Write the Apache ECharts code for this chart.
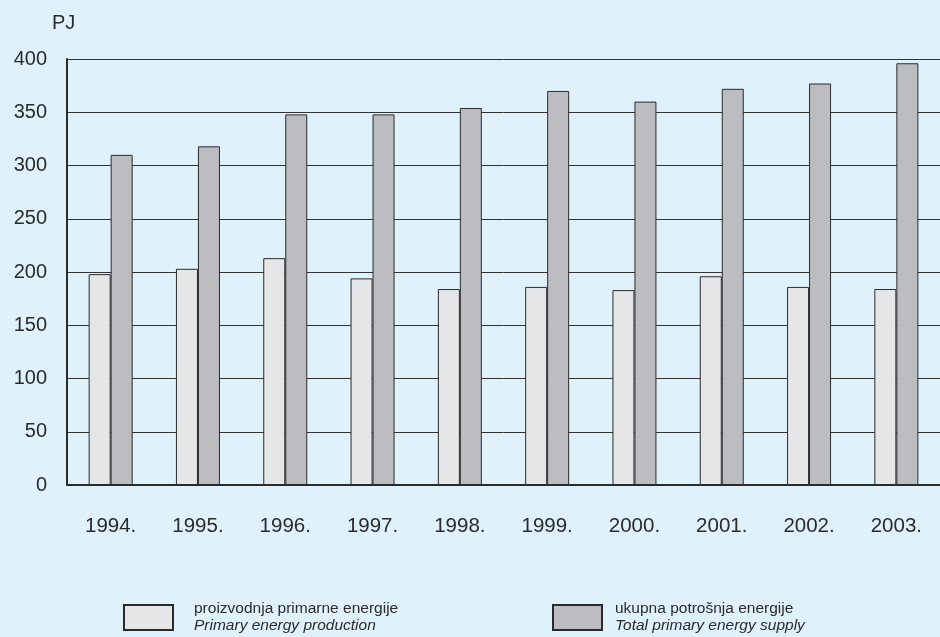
<!DOCTYPE html>
<html>
<head>
<meta charset="utf-8">
<title>Primarna energija 1994.–2003.</title>
<script src="https://cdn.jsdelivr.net/npm/echarts@6/dist/echarts.min.js"></script>
<style>
  html, body { margin: 0; padding: 0; background: #dff2fc; }
  #chart { width: 940px; height: 637px; }
</style>
</head>
<body>
<div id="chart"></div>
<script>
// Years on the category axis
const years = ['1994.', '1995.', '1996.', '1997.', '1998.', '1999.', '2000.', '2001.', '2002.', '2003.'];
// Primary energy production, PJ
const production = [198, 203, 213, 194, 184, 186, 183, 196, 186, 184];
// Total primary energy supply, PJ
const supply = [310, 318, 348, 348, 354, 370, 360, 372, 377, 396];
// Value axis ticks
const yTicks = [0, 50, 100, 150, 200, 250, 300, 350, 400];

const seriesNames = [
  { hr: 'proizvodnja primarne energije', en: 'Primary energy production' },
  { hr: 'ukupna potrošnja energije', en: 'Total primary energy supply' }
];

const font = '"Liberation Sans", Arial, sans-serif';
const ink = '#2b2b2b';

function legendText(gap) {
  return {
    fontFamily: font,
    rich: {
      a: { fontFamily: font, fontSize: 15.5, color: ink, lineHeight: 17, padding: [0, 0, 0, gap] },
      b: { fontFamily: font, fontSize: 15.5, color: ink, fontStyle: 'italic', lineHeight: 17, padding: [0, 0, 0, gap] }
    }
  };
}

function legendFmt(name) {
  const s = seriesNames.find(n => n.hr === name);
  return '{a|' + s.hr + '}\n{b|' + s.en + '}';
}

function legendAt(idx, left, gap) {
  return {
    data: [seriesNames[idx].hr],
    left: left,
    top: 601,
    padding: 0,
    icon: 'rect',
    itemWidth: 49,
    itemHeight: 25,
    itemGap: 0,
    formatter: legendFmt,
    textStyle: legendText(gap),
    selectedMode: false
  };
}

const chart = echarts.init(document.getElementById('chart'), null, { renderer: 'canvas' });

chart.setOption({
  backgroundColor: '#dff2fc',
  animation: false,
  title: {
    text: 'PJ',
    left: 52,
    top: 13,
    padding: 0,
    textStyle: { fontFamily: font, fontSize: 20, fontWeight: 'normal', color: ink }
  },
  legend: [legendAt(0, 123, 16), legendAt(1, 552, 8)],
  grid: {
    left: 67,
    top: 59,
    width: 880,
    height: 426,
    containLabel: false
  },
  xAxis: {
    type: 'category',
    data: years,
    axisLine: { show: true, lineStyle: { color: ink, width: 2 } },
    axisTick: { show: false },
    axisLabel: {
      fontFamily: font,
      fontSize: 20.5,
      color: ink,
      margin: 31
    },
    splitLine: { show: false }
  },
  yAxis: {
    type: 'value',
    min: yTicks[0],
    max: yTicks[yTicks.length - 1],
    interval: yTicks[1] - yTicks[0],
    axisLine: { show: true, lineStyle: { color: ink, width: 2 } },
    axisTick: { show: false },
    axisLabel: {
      fontFamily: font,
      fontSize: 20,
      color: ink,
      margin: 20
    },
    splitLine: { show: true, lineStyle: { color: '#333333', width: 1 } }
  },
  series: [
    {
      name: seriesNames[0].hr,
      type: 'bar',
      data: production,
      barWidth: 22,
      barGap: '0%',
      itemStyle: { color: '#e5e6e8', borderColor: '#2a2a2a', borderWidth: 1 }
    },
    {
      name: seriesNames[1].hr,
      type: 'bar',
      data: supply,
      barWidth: 22,
      barGap: '0%',
      itemStyle: { color: '#bcbdc1', borderColor: '#2a2a2a', borderWidth: 1 }
    }
  ]
});
</script>
</body>
</html>
